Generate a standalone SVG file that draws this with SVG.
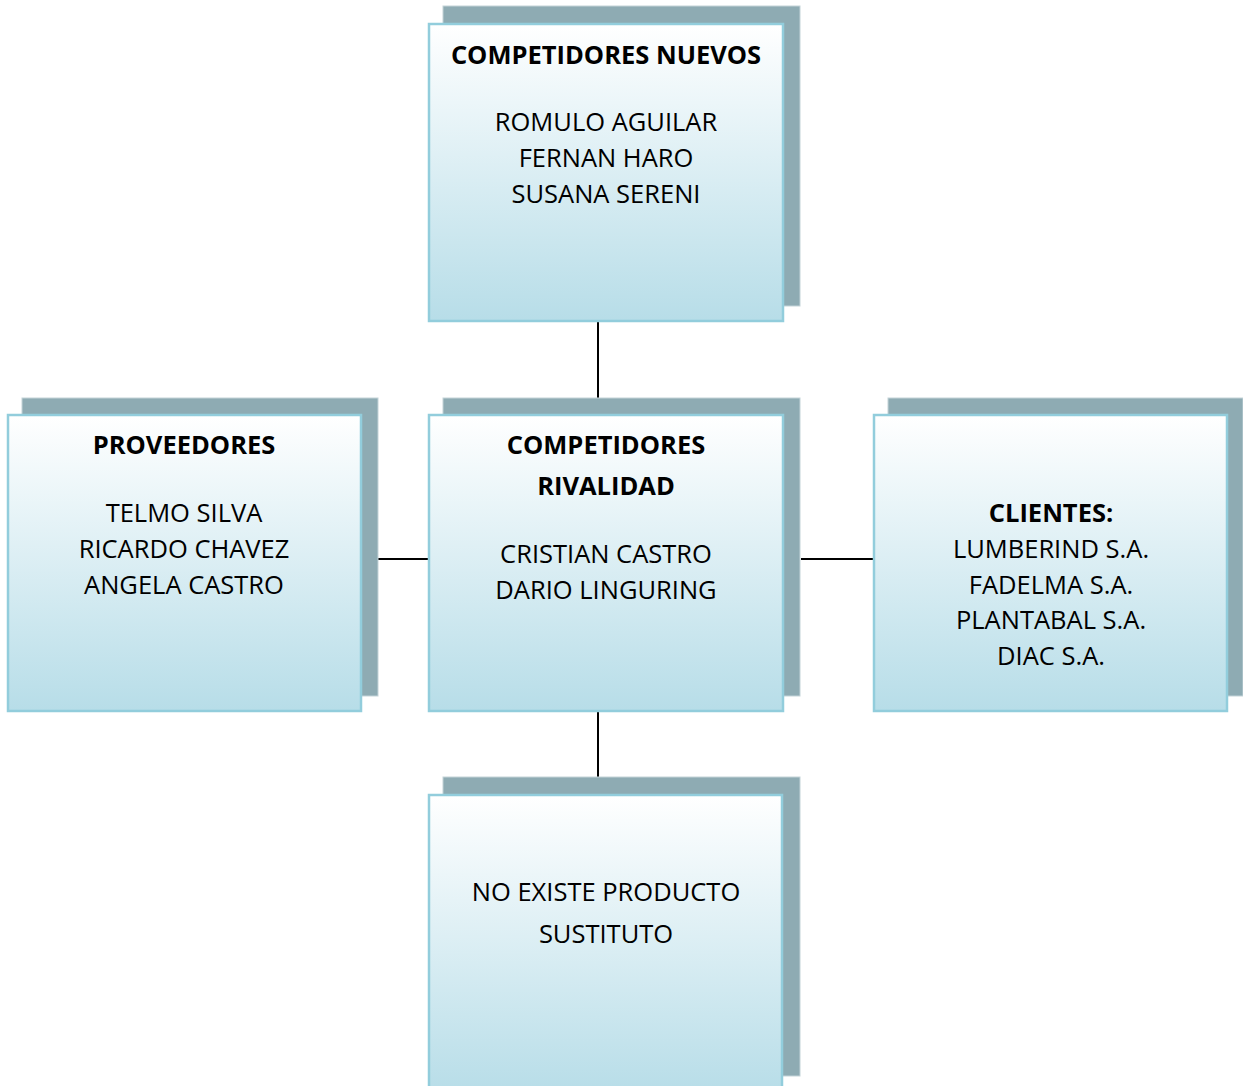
<svg xmlns="http://www.w3.org/2000/svg" width="1243" height="1086" viewBox="0 0 1243 1086">
  <defs>
    <linearGradient id="fill" x1="0" y1="0" x2="0" y2="1">
      <stop offset="0" stop-color="#ffffff"/>
      <stop offset="1" stop-color="#b7dde8"/>
    </linearGradient>
    <style>
      .shadow { fill: #8eabb3; stroke: #c3d3d8; stroke-width: 1; }
      .box { fill: url(#fill); stroke: #92cddc; stroke-width: 2.5; }
      .link { stroke: #000; stroke-width: 2; fill: none; }
      text { font-family: "Open Sans", "Liberation Sans", sans-serif; font-size: 25.5px; fill: #000; text-anchor: middle; }
      .title { font-weight: bold; }
    </style>
  </defs>
  <rect width="1243" height="1086" fill="#ffffff"/>

  <g id="connectors">
    <line class="link" x1="598" y1="321" x2="598" y2="398"/>
    <line class="link" x1="378" y1="559" x2="429" y2="559"/>
    <line class="link" x1="801" y1="559" x2="874" y2="559"/>
    <line class="link" x1="598" y1="711" x2="598" y2="778"/>
  </g>

  <g id="competidores-nuevos">
    <rect class="shadow" x="443" y="6" width="357" height="300"/>
    <rect class="box" x="429" y="24" width="354" height="297"/>
    <text class="title" x="606" y="64">COMPETIDORES NUEVOS</text>
    <text x="606" y="131">ROMULO AGUILAR</text>
    <text x="606" y="167">FERNAN HARO</text>
    <text x="606" y="203">SUSANA SERENI</text>
  </g>

  <g id="proveedores">
    <rect class="shadow" x="22" y="398" width="356" height="298"/>
    <rect class="box" x="8" y="415" width="353" height="296"/>
    <text class="title" x="184" y="454">PROVEEDORES</text>
    <text x="184" y="522">TELMO SILVA</text>
    <text x="184" y="558">RICARDO CHAVEZ</text>
    <text x="184" y="594">ANGELA CASTRO</text>
  </g>

  <g id="competidores-rivalidad">
    <rect class="shadow" x="443" y="398" width="357" height="298"/>
    <rect class="box" x="429" y="415" width="354" height="296"/>
    <text class="title" x="606" y="454">COMPETIDORES</text>
    <text class="title" x="606" y="495">RIVALIDAD</text>
    <text x="606" y="563">CRISTIAN CASTRO</text>
    <text x="606" y="599">DARIO LINGURING</text>
  </g>

  <g id="clientes">
    <rect class="shadow" x="888" y="398" width="355" height="298"/>
    <rect class="box" x="874" y="415" width="353" height="296"/>
    <text class="title" x="1051" y="522">CLIENTES:</text>
    <text x="1051" y="558">LUMBERIND S.A.</text>
    <text x="1051" y="594">FADELMA S.A.</text>
    <text x="1051" y="629">PLANTABAL S.A.</text>
    <text x="1051" y="665">DIAC S.A.</text>
  </g>

  <g id="producto-sustituto">
    <rect class="shadow" x="443" y="777" width="357" height="299"/>
    <rect class="box" x="429" y="795" width="353" height="300"/>
    <text x="606" y="901">NO EXISTE PRODUCTO</text>
    <text x="606" y="943">SUSTITUTO</text>
  </g>
</svg>
